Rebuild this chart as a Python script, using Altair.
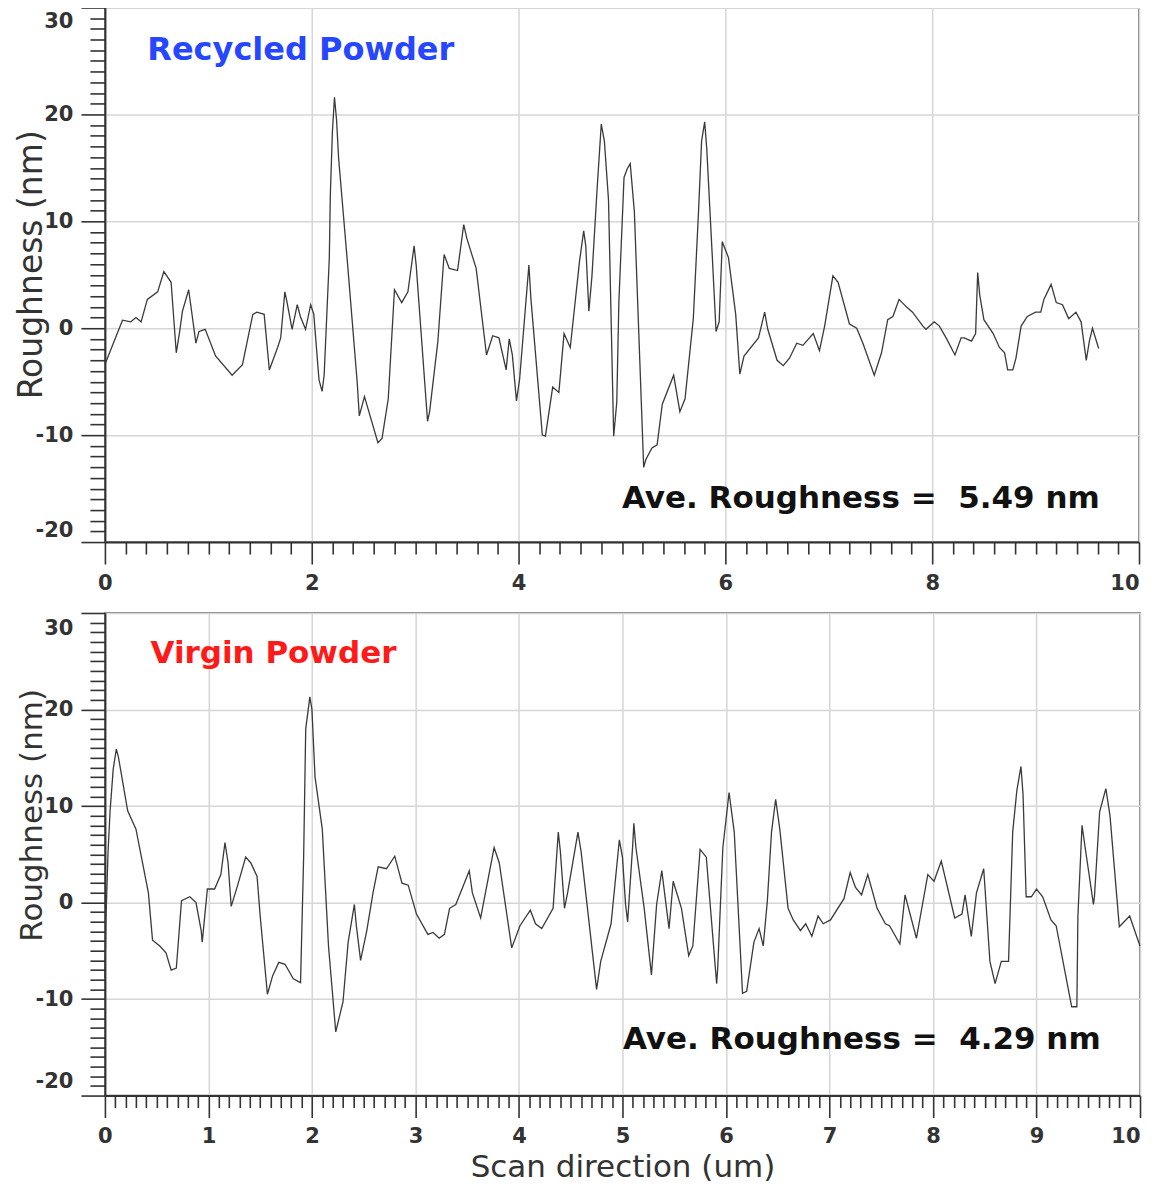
import altair as alt
import pandas as pd

# ---------------- data ----------------
top_x = [0.00, 0.17, 0.25, 0.30, 0.35, 0.41, 0.51, 0.57, 0.64, 0.69, 0.72, 0.75, 0.81, 0.88, 0.91,
         0.97, 1.07, 1.23, 1.33, 1.43, 1.47, 1.54, 1.59, 1.67, 1.70, 1.74, 1.76, 1.81, 1.86, 1.89,
         1.94, 1.99, 2.02, 2.07, 2.10, 2.12, 2.17, 2.18, 2.20, 2.22, 2.24, 2.26, 2.35, 2.44, 2.46,
         2.51, 2.64, 2.68, 2.74, 2.80, 2.87, 2.93, 2.99, 3.01, 3.12, 3.14, 3.22, 3.28, 3.33, 3.41,
         3.47, 3.50, 3.59, 3.69, 3.75, 3.81, 3.88, 3.91, 3.94, 3.98, 4.01, 4.10, 4.12, 4.23, 4.26,
         4.33, 4.39, 4.44, 4.50, 4.59, 4.63, 4.65, 4.68, 4.71, 4.76, 4.80, 4.83, 4.87, 4.92, 4.95,
         4.97, 5.02, 5.05, 5.08, 5.12, 5.21, 5.23, 5.29, 5.34, 5.39, 5.50, 5.56, 5.61, 5.69, 5.74,
         5.77, 5.80, 5.82, 5.87, 5.91, 5.94, 5.97, 6.03, 6.10, 6.14, 6.18, 6.32, 6.38, 6.41, 6.50,
         6.56, 6.62, 6.69, 6.75, 6.85, 6.91, 6.96, 7.04, 7.09, 7.20, 7.27, 7.33, 7.44, 7.51, 7.57,
         7.62, 7.68, 7.75, 7.81, 7.91, 7.94, 8.02, 8.07, 8.14, 8.22, 8.28, 8.31, 8.38, 8.42, 8.44,
         8.46, 8.50, 8.59, 8.65, 8.70, 8.73, 8.78, 8.81, 8.86, 8.92, 9.00, 9.05, 9.08, 9.15, 9.20,
         9.26, 9.32, 9.39, 9.44, 9.49, 9.52, 9.55, 9.61]
top_y = [-3.4, 0.75, 0.6, 1.0, 0.6, 2.7, 3.4, 5.3, 4.3, -2.3, -0.5, 1.6, 3.6, -1.4, -0.3,
         -0.1, -2.6, -4.4, -3.4, 1.3, 1.5, 1.3, -3.9, -1.8, -0.9, 3.4, 2.5, -0.1, 2.2, 1.1,
         -0.1, 2.2, 1.3, -4.8, -5.9, -4.4, 6.6, 12.5, 18.4, 21.6, 19.5, 15.9, 5.6, -5.1, -8.2,
         -6.4, -10.7, -10.3, -6.6, 3.6, 2.4, 3.4, 7.7, 5.9, -8.7, -7.8, -1.2, 6.9, 5.6, 5.4,
         9.7, 8.4, 5.6, -2.5, -0.7, -0.9, -3.9, -1.0, -2.5, -6.8, -4.8, 5.9, 2.7, -10.0, -10.1,
         -5.5, -6.0, -0.5, -1.8, 6.3, 9.1, 7.7, 1.6, 4.9, 13.1, 19.1, 17.5, 12.0, -10.1, -6.9,
         2.4, 14.1, 14.9, 15.4, 10.9, -13.0, -12.3, -11.2, -10.9, -7.1, -4.4, -7.8, -6.6, 0.9, 10.8,
         17.5, 19.3, 16.8, 7.4, -0.3, 0.6, 8.1, 6.6, 1.3, -4.3, -2.6, -0.9, 1.5, -0.1, -3.0,
         -3.5, -2.8, -1.4, -1.6, -0.5, -2.1, 0.2, 4.9, 4.3, 0.4, 0.0, -1.4, -4.4, -2.3, 0.8,
         1.1, 2.7, 2.0, 1.5, 0.2, -0.1, 0.6, 0.2, -1.0, -2.5, -0.9, -0.9, -1.2, -0.5, 5.2,
         3.1, 0.8, -0.5, -1.8, -2.3, -3.9, -3.9, -2.8, 0.2, 1.1, 1.5, 1.5, 2.7, 4.1, 2.4,
         2.2, 0.9, 1.5, 0.6, -3.0, -1.2, 0.0, -1.9]

bot_x = [0.00, 0.01, 0.03, 0.05, 0.08, 0.11, 0.13, 0.22, 0.30, 0.42, 0.46, 0.53, 0.59, 0.64, 0.69,
         0.74, 0.82, 0.88, 0.93, 0.94, 0.99, 1.06, 1.12, 1.16, 1.19, 1.22, 1.28, 1.36, 1.41, 1.47,
         1.50, 1.57, 1.62, 1.68, 1.74, 1.82, 1.89, 1.92, 1.94, 1.98, 2.00, 2.03, 2.10, 2.16, 2.23,
         2.30, 2.35, 2.41, 2.43, 2.47, 2.53, 2.59, 2.64, 2.72, 2.80, 2.87, 2.93, 3.01, 3.12, 3.17,
         3.23, 3.28, 3.33, 3.39, 3.52, 3.55, 3.63, 3.76, 3.81, 3.93, 4.01, 4.11, 4.16, 4.22, 4.33,
         4.38, 4.40, 4.44, 4.47, 4.57, 4.60, 4.75, 4.79, 4.89, 4.97, 5.00, 5.03, 5.05, 5.10, 5.11,
         5.13, 5.21, 5.28, 5.33, 5.38, 5.45, 5.49, 5.57, 5.64, 5.68, 5.75, 5.81, 5.91, 5.92, 5.97,
         6.03, 6.08, 6.16, 6.20, 6.27, 6.32, 6.36, 6.40, 6.44, 6.48, 6.52, 6.60, 6.65, 6.72, 6.77,
         6.83, 6.89, 6.94, 7.01, 7.14, 7.20, 7.25, 7.31, 7.37, 7.46, 7.54, 7.58, 7.68, 7.73, 7.84,
         7.95, 8.01, 8.08, 8.21, 8.28, 8.31, 8.37, 8.42, 8.49, 8.55, 8.60, 8.66, 8.73, 8.77, 8.81,
         8.85, 8.87, 8.90, 8.95, 9.00, 9.06, 9.14, 9.19, 9.34, 9.39, 9.40, 9.44, 9.47, 9.55, 9.56,
         9.61, 9.67, 9.71, 9.80, 9.90, 10.00]
bot_y = [-7.8, -1.7, 5.2, 9.5, 13.8, 15.9, 15.1, 9.5, 7.6, 1.0, -3.9, -4.5, -5.2, -7.0, -6.8,
         0.2, 0.6, 0.0, -2.9, -4.1, 1.4, 1.4, 2.9, 6.2, 4.1, -0.4, 1.7, 4.7, 4.1, 2.7,
         -1.4, -9.5, -7.6, -6.2, -6.4, -7.9, -8.3, 4.8, 18.0, 21.3, 20.0, 13.0, 7.6, -4.5, -13.4,
         -10.3, -4.1, -0.2, -2.5, -6.0, -2.9, 1.0, 3.7, 3.5, 4.8, 2.0, 1.8, -1.2, -3.3, -3.1,
         -3.7, -3.3, -0.6, -0.2, 3.3, 1.0, -1.6, 5.7, 4.1, -4.7, -2.4, -0.8, -2.2, -2.7, -0.6,
         7.3, 5.3, -0.6, 1.0, 7.3, 5.3, -9.0, -6.1, -2.2, 6.5, 4.7, -0.2, -2.0, 6.1, 8.2,
         5.7, -0.6, -7.5, -0.2, 3.3, -2.7, 2.2, -0.6, -5.5, -4.5, 5.5, 4.7, -8.4, -6.9, 5.7,
         11.4, 7.3, -9.4, -9.2, -4.1, -2.7, -4.5, 0.2, 7.3, 10.7, 7.6, -0.6, -1.8, -2.9, -2.2,
         -3.5, -1.4, -2.2, -1.8, 0.4, 3.1, 1.6, 0.8, 2.9, -0.6, -2.2, -2.4, -4.3, 0.8, -3.7,
         2.9, 2.2, 4.3, -1.6, -1.2, 0.8, -3.5, 1.0, 3.5, -6.1, -8.4, -6.1, -6.1, 7.3, 11.6,
         14.1, 11.2, 0.6, 0.6, 1.4, 0.6, -1.8, -2.4, -10.8, -10.8, -1.4, 8.0, 5.7, -0.2, 0.6,
         9.4, 11.8, 9.0, -2.5, -1.4, -4.5]

top_ticks_x = [round(i * 0.2, 1) for i in range(51)]
bot_ticks_x = [round(i * 0.1, 1) for i in range(101)]
ticks_y = list(range(-20, 31))

NB = "\u00a0"
labels_top = ["Recycled Powder", "Ave. Roughness =" + NB + NB + "5.49 nm"]
labels_bot = ["Virgin Powder", "Ave. Roughness =" + NB + NB + "4.29 nm"]

FONT = "DejaVu Sans"
INK = "#333333"


def x_axis(values, major, title):
    test = f"abs(datum.value / {major} - round(datum.value / {major})) < 0.001"
    return alt.Axis(
        values=values,
        title=title,
        labelExpr=f"{test} ? toString(round(datum.value)) : ''",
        labelOverlap=False,
        labelFlush=False,
        labelAlign={"condition": {"test": "datum.value >= 10", "value": "right"}, "value": "center"},
        labelFont=FONT, labelFontSize=21, labelFontWeight="bold", labelColor=INK,
        labelPadding=8,
        tickSize={"condition": {"test": test, "value": 22}, "value": 12},
        tickColor=INK, tickWidth=1.6,
        domainColor=INK, domainWidth=2,
        grid=True, gridColor="#d6d6d6", gridWidth=1.5,
        gridOpacity={"condition": {"test": test, "value": 1}, "value": 0},
        titleFont=FONT, titleFontSize=31, titleFontWeight="normal", titleColor=INK,
        titlePadding=6,
    )


def y_axis(offset_top, offset_bottom, title_y, title_size):
    test = "abs(datum.value / 10 - round(datum.value / 10)) < 0.001"
    return alt.Axis(
        values=ticks_y,
        title="Roughness (nm)",
        labelExpr=f"{test} ? toString(round(datum.value)) : ''",
        labelOverlap=False,
        labelFont=FONT, labelFontSize=21, labelFontWeight="bold", labelColor=INK,
        labelPadding=8,
        labelOffset={"condition": [{"test": "datum.value == 30", "value": offset_top},
                                   {"test": "datum.value == -20", "value": offset_bottom}],
                     "value": 0},
        tickSize={"condition": {"test": test, "value": 24}, "value": 15},
        tickColor=INK, tickWidth=1.6,
        domainColor=INK, domainWidth=2,
        grid=True, gridColor="#d6d6d6", gridWidth=1.5,
        gridOpacity={"condition": {"test": test, "value": 1}, "value": 0},
        titleFont=FONT, titleFontSize=title_size, titleFontWeight="normal", titleColor=INK,
        titleX=-63, titleY=title_y, titleAngle=270, titleAlign="center", titleBaseline="alphabetic",
    )


def panel(xs, ys, ticks_x, major, xtitle, labels, label_color, width, height,
          off_top, off_bot, title_y, title_size, name_pos, name_size, ave_pos):
    df = pd.DataFrame({"x": xs, "y": ys})
    xscale = alt.Scale(domain=[0, 10], nice=False, zero=False)
    yscale = alt.Scale(domain=[-20, 30], nice=False, zero=False)
    xax = x_axis(ticks_x, major, xtitle)
    yax = y_axis(off_top, off_bot, title_y, title_size)
    line = alt.Chart(df).mark_line(color="#3a3a3a", strokeWidth=1.3).encode(
        x=alt.X("x:Q", scale=xscale, axis=xax),
        y=alt.Y("y:Q", scale=yscale, axis=yax),
    )
    name = alt.Chart(pd.DataFrame({"t": [labels[0]]})).mark_text(
        font=FONT, fontSize=name_size, fontWeight="bold", color=label_color,
        align="left", baseline="middle",
    ).encode(x=alt.XDatum(name_pos[0], type="quantitative", scale=xscale, axis=xax),
             y=alt.YDatum(name_pos[1], type="quantitative", scale=yscale, axis=yax),
             text="t:N")
    ave = alt.Chart(pd.DataFrame({"t": [labels[1]]})).mark_text(
        font=FONT, fontSize=31, fontWeight="bold", color="#111111",
        align="right", baseline="middle",
    ).encode(x=alt.XDatum(ave_pos[0], type="quantitative", scale=xscale, axis=xax),
             y=alt.YDatum(ave_pos[1], type="quantitative", scale=yscale, axis=yax),
             text="t:N")
    return alt.layer(line, name, ave).properties(width=width, height=height)


top = panel(top_x, top_y, top_ticks_x, 2, None, labels_top, "#2646ff", 1035, 535,
            14, -12, 257, 33, (0.41, 26.0), 32, (9.62, -16.0))
bottom = panel(bot_x, bot_y, bot_ticks_x, 1, "Scan direction (um)", labels_bot, "#ff1a1a", 1036, 483,
               16, -14, 202, 31, (0.44, 25.8), 31, (9.62, -14.2))

chart = alt.vconcat(top, bottom, spacing=16).properties(
    padding={"left": 7, "top": -3, "right": 0, "bottom": 0}
).configure_view(stroke="#555555", strokeWidth=1.5)

chart.save("out.html", embed_options={"renderer": "svg", "actions": False})
